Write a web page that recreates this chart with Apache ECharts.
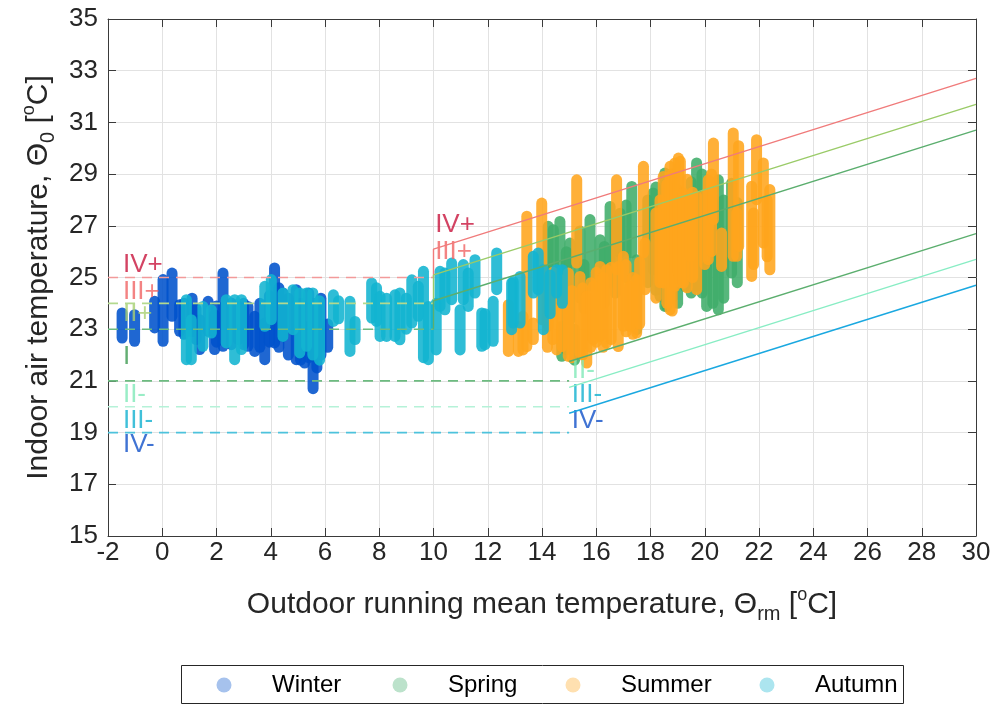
<!DOCTYPE html>
<html>
<head>
<meta charset="utf-8">
<script src="https://cdn.jsdelivr.net/npm/echarts@6/dist/echarts.min.js"></script>
<style>
html,body{margin:0;padding:0;background:#fff;}
#chart{width:999px;height:704px;}
</style>
</head>
<body>
<div id="chart"></div>
<script>
// ---------- DATA ----------
const seasons = ['Winter', 'Spring', 'Summer', 'Autumn'];
const yTicks = [15, 17, 19, 21, 23, 25, 27, 29, 31, 33, 35];

// Columns of hourly points per day: [Trm, lowest Θ0, highest Θ0]
const winterCols = [
  [-1.48, 22.66, 23.63], [-1.02, 22.53, 23.56], [-0.28, 23.05, 24.08], [0.03, 22.53, 24.92],
  [0.36, 23.5, 25.17], [0.64, 22.92, 23.95], [0.8, 22.8, 24.0], [1.1, 22.9, 24.2],
  [1.25, 22.6, 23.8], [1.38, 22.21, 23.37], [1.69, 22.92, 24.08], [1.93, 22.21, 23.56],
  [2.0, 22.5, 23.9], [2.24, 22.34, 25.17], [2.55, 22.4, 24.01], [2.8, 22.6, 23.9],
  [3.0, 22.4, 24.0], [3.16, 22.34, 23.88], [3.41, 22.14, 23.5], [3.6, 22.3, 24.0],
  [3.78, 21.82, 23.24], [3.95, 22.5, 24.3], [4.14, 22.47, 25.37], [4.3, 22.3, 24.6],
  [4.45, 22.72, 24.4], [4.65, 22.0, 24.2], [4.94, 21.82, 24.53], [5.1, 21.8, 24.0],
  [5.25, 21.69, 23.11], [5.4, 21.9, 24.4], [5.56, 20.7, 24.0], [5.7, 21.5, 23.8],
  [5.85, 22.0, 24.2], [6.1, 22.3, 23.2]
];
const springCols = [
  [14.23, 23.11, 26.98], [14.42, 24.14, 26.85], [14.66, 24.53, 27.17], [14.73, 21.95, 23.11],
  [14.9, 22.2, 26.0], [15.03, 23.37, 26.33], [15.2, 21.8, 23.0], [15.4, 24.2, 26.8],
  [15.55, 23.8, 25.5], [15.77, 24.66, 27.24], [16.14, 24.66, 26.46], [16.3, 24.0, 26.2],
  [16.51, 24.79, 27.75], [16.7, 24.4, 27.2], [16.88, 25.95, 27.49], [17.1, 25.0, 27.8],
  [17.31, 25.95, 28.52], [17.49, 22.98, 25.69], [17.9, 24.8, 28.0], [18.1, 25.3, 28.27],
  [18.2, 24.5, 28.5], [18.35, 24.27, 26.33], [18.53, 23.88, 29.04], [18.6, 23.88, 25.04],
  [18.8, 24.2, 27.5], [19.0, 24.0, 28.4], [19.27, 24.66, 25.69], [19.5, 24.4, 28.7],
  [19.7, 24.66, 29.43], [19.9, 24.4, 29.0], [20.07, 23.88, 25.43], [20.3, 24.0, 27.9],
  [20.5, 23.75, 28.78], [20.7, 24.2, 28.0], [20.99, 25.17, 28.65], [21.2, 24.8, 27.9]
];
const summerCols = [
  [12.76, 22.14, 23.95], [13.13, 22.14, 23.11], [13.3, 22.2, 23.5], [13.44, 22.33, 27.37],
  [13.68, 22.6, 23.24], [13.99, 23.37, 27.88], [14.2, 22.3, 24.5], [14.4, 22.6, 25.2],
  [14.54, 22.2, 24.9], [14.73, 22.33, 24.9], [14.97, 21.95, 25.17], [15.1, 21.9, 24.5],
  [15.28, 25.56, 28.78], [15.4, 22.08, 25.04], [15.5, 22.0, 24.6], [15.65, 21.69, 24.27],
  [15.8, 22.3, 24.8], [15.89, 22.6, 24.66], [16.0, 22.5, 25.2], [16.14, 22.72, 25.43],
  [16.25, 22.3, 25.0], [16.38, 22.46, 25.3], [16.55, 22.6, 25.4], [16.75, 25.3, 28.78],
  [16.81, 22.33, 25.43], [17.0, 23.11, 25.82], [17.1, 22.9, 25.5], [17.24, 23.11, 24.66],
  [17.35, 22.8, 25.0], [17.49, 22.85, 24.92], [17.6, 23.2, 25.6], [17.74, 25.95, 29.3],
  [17.8, 24.53, 26.33], [18.2, 24.2, 27.5], [18.35, 24.8, 28.0], [18.47, 24.79, 28.91],
  [18.6, 24.0, 28.6], [18.72, 23.75, 29.3], [18.8, 23.7, 29.0], [18.9, 24.66, 29.43],
  [19.03, 25.17, 29.62], [19.1, 24.8, 29.5], [19.21, 24.78, 28.27], [19.35, 24.6, 28.8],
  [19.46, 25.82, 28.01], [19.55, 25.0, 28.3], [19.7, 24.53, 28.14], [20.0, 25.5, 28.2],
  [20.13, 25.69, 28.78], [20.25, 26.0, 29.0], [20.32, 27.24, 30.2], [20.62, 25.43, 26.72],
  [21.05, 25.82, 30.59], [21.18, 25.82, 27.5], [21.25, 26.2, 30.1], [21.73, 25.04, 28.53],
  [21.8, 25.5, 27.5], [21.91, 28.01, 30.33], [22.16, 26.33, 29.43], [22.3, 25.8, 28.0],
  [22.4, 25.3, 28.4]
];
const autumnCols = [
  [0.89, 21.82, 24.14], [1.07, 21.82, 23.37], [1.5, 22.34, 23.88],
  [1.81, 22.85, 23.75], [2.36, 22.47, 24.14], [2.67, 21.82, 24.14],
  [2.92, 22.21, 24.14], [3.78, 23.11, 24.66],
  [4.02, 23.37, 24.92], [4.45, 22.72, 24.4],
  [4.82, 22.98, 24.53], [5.07, 22.08, 24.4], [5.32, 22.34, 24.4], [5.55, 22.0, 24.4],
  [5.8, 21.8, 24.1], [6.31, 23.3, 24.33], [6.5, 23.4, 24.1], [6.92, 22.14, 24.08],
  [7.11, 22.6, 23.3], [7.72, 23.43, 24.79], [7.9, 23.3, 24.6], [8.03, 22.72, 24.27],
  [8.27, 22.72, 24.2], [8.58, 22.72, 24.33], [8.76, 22.59, 24.4], [9.0, 23.0, 24.2],
  [9.2, 23.24, 24.91], [9.44, 23.5, 24.66], [9.63, 21.9, 25.24], [9.81, 21.82, 23.88],
  [10.1, 22.2, 24.0], [10.24, 23.88, 25.24], [10.42, 23.75, 25.17], [10.67, 24.14, 25.56],
  [10.98, 22.2, 23.75], [11.1, 24.14, 25.5], [11.28, 23.88, 25.17], [11.53, 24.4, 25.69],
  [11.78, 22.34, 23.63], [11.9, 22.4, 23.6], [12.2, 22.53, 24.08], [12.33, 24.53, 25.95],
  [12.88, 22.98, 24.79], [12.94, 23.24, 24.85], [13.19, 23.24, 25.04], [13.68, 24.4, 25.82],
  [13.86, 24.53, 25.95], [14.05, 22.98, 25.3], [14.3, 23.6, 25.1], [14.54, 24.4, 25.3],
  [14.75, 24.0, 25.3]
];

// Comfort band limits (category boundaries)
const upperBand = [25, 24, 23];            // Θ0 for Trm below the switch point
const upperSwitch = 10;                    // Trm where sloped upper limits begin
const upperSlopeStart = [26.1, 25.1, 24.1];
const upperSlopeEnd = [32.7, 31.7, 30.7];  // at Trm = 30
const lowerBand = [21, 20, 19];
const lowerSwitch = 15;
const lowerSlopeStart = [21.75, 20.75, 19.75];
const lowerSlopeEnd = [26.7, 25.7, 24.7];
const xMin = -2, xMax = 30;

// Category label texts and anchors
const labelTexts = ['IV+', 'III+', 'II+', 'I', 'II-', 'III-', 'IV-', 'IV+', 'III+', 'II-', 'III-', 'IV-'];
const labelX = [-1.45, -1.45, -1.45, -1.45, -1.45, -1.45, -1.45, 10.06, 10.06, 15.1, 15.1, 15.1];
const labelY = [25.5, 24.46, 23.6, 21.94, 20.47, 19.46, 18.53, 27.04, 26.0, 21.4, 20.47, 19.46];

// ---------- STYLE ----------
const FONT = "'Liberation Sans', Arial, Helvetica, sans-serif";
const TXT = '#262626';
const seasonColors = ['#0052CC', '#40AD6A', '#FFA51C', '#12B4D0'];
const legendColors = ['#A6C2ED', '#BCE2CB', '#FFE0B0', '#ACE5EF'];
const upperColors = ['#F07B7B', '#9ACB68', '#5BAE6E'];
const upperDashColors = ['#F29A9A', '#B3D98E', '#6DBB80'];
const lowerColors = ['#5BAE6E', '#88EDC4', '#1AA8E0'];
const lowerDashColors = ['#6DBB80', '#B5F2D8', '#4DC2DC'];
const labelColors = ['#C8143C', '#F06464', '#A8D070', '#3C9A50', '#80E8B8', '#10B0D0', '#1050C8',
                     '#C8143C', '#F06464', '#80E8B8', '#10B0D0', '#1050C8'];

const chart = echarts.init(document.getElementById('chart'), null, {renderer: 'canvas'});

function renderCol(params, api) {
  const a = api.coord([api.value(0), api.value(2)]);
  const b = api.coord([api.value(0), api.value(1)]);
  return {
    type: 'line',
    shape: {x1: a[0], y1: a[1], x2: b[0], y2: b[1]},
    style: {stroke: api.visual('color'), lineWidth: 11, lineCap: 'round', opacity: 0.88}
  };
}

const series = [];
// comfort lines
for (let i = 0; i < 3; i++) {
  series.push({
    type: 'line', silent: true, symbol: 'none', animation: false,
    data: [[xMin, upperBand[i]], [upperSwitch, upperBand[i]]],
    lineStyle: {color: upperDashColors[i], width: 1.6, type: [10, 7]}
  });
  series.push({
    type: 'line', silent: true, symbol: 'none', animation: false,
    data: [[upperSwitch, upperBand[i]], [upperSwitch, upperSlopeStart[i]], [xMax, upperSlopeEnd[i]]],
    lineStyle: {color: upperColors[i], width: 1.4}
  });
  series.push({
    type: 'line', silent: true, symbol: 'none', animation: false,
    data: [[xMin, lowerBand[i]], [lowerSwitch, lowerBand[i]]],
    lineStyle: {color: lowerDashColors[i], width: 1.6, type: [10, 7]}
  });
  series.push({
    type: 'line', silent: true, symbol: 'none', animation: false,
    data: [[lowerSwitch, lowerSlopeStart[i]], [xMax, lowerSlopeEnd[i]]],
    lineStyle: {color: lowerColors[i], width: 1.4}
  });
}
// category labels
series.push({
  type: 'scatter', silent: true, animation: false, symbolSize: 0,
  data: labelTexts.map((t, i) => ({
    value: [labelX[i], labelY[i]], name: t,
    label: {show: true, position: 'right', distance: 0, formatter: t,
            color: labelColors[i], fontSize: 26, fontFamily: FONT}
  }))
});
// measured data
const colsBySeason = [winterCols, springCols, summerCols, autumnCols];
seasons.forEach((s, i) => {
  series.push({
    name: s, type: 'custom', animation: false,
    itemStyle: {color: seasonColors[i]},
    renderItem: renderCol,
    encode: {x: 0, y: [1, 2]},
    data: colsBySeason[i]
  });
});

const legendLefts = [216.5, 392.5, 565.5, 759.5];
const legends = seasons.map((s, i) => ({
  show: true, orient: 'horizontal', left: legendLefts[i], top: 671, padding: 0,
  icon: 'circle', itemWidth: 86, itemHeight: 15, itemGap: 0,
  selectedMode: false,
  data: [{name: s, itemStyle: {color: legendColors[i], opacity: 1}}],
  textStyle: {fontSize: 24, color: '#000', fontFamily: FONT, lineHeight: 28}
}));

const richName = {
  n: {fontSize: 30, fontFamily: FONT, color: TXT, lineHeight: 38},
  sub: {fontSize: 20, fontFamily: FONT, color: TXT, verticalAlign: 'bottom', lineHeight: 14},
  sup: {fontSize: 18, fontFamily: FONT, color: TXT, verticalAlign: 'top', lineHeight: 12}
};

const option = {
  backgroundColor: '#ffffff',
  animation: false,
  grid: {left: 108, right: 23, top: 19, bottom: 168, containLabel: false},
  legend: legends,
  graphic: [{
    type: 'rect', left: 181, top: 665, z: -10, silent: true,
    shape: {width: 722, height: 38},
    style: {fill: '#fff', stroke: TXT, lineWidth: 1}
  }],
  xAxis: [{
    type: 'value', min: xMin, max: xMax, interval: 2, position: 'bottom',
    axisLine: {show: true, onZero: false, lineStyle: {color: '#3a3a3a', width: 1}},
    axisTick: {show: true, inside: true, length: 8, lineStyle: {color: '#3a3a3a'}},
    axisLabel: {fontSize: 26, color: TXT, fontFamily: FONT, margin: 4},
    splitLine: {show: true, lineStyle: {color: '#e2e2e2', width: 1}},
    name: '{n|Outdoor running mean temperature, Θ}{sub|rm}{n| [}{sup|o}{n|C]}',
    nameLocation: 'middle', nameGap: 50,
    nameTextStyle: {rich: richName}
  }, {
    type: 'value', min: xMin, max: xMax, interval: 2, position: 'top',
    axisLine: {show: true, onZero: false, lineStyle: {color: '#3a3a3a', width: 1}},
    axisTick: {show: true, inside: true, length: 8, lineStyle: {color: '#3a3a3a'}},
    axisLabel: {show: false}, splitLine: {show: false}
  }],
  yAxis: [{
    type: 'value', min: 15, max: 35, position: 'left',
    axisLine: {show: true, onZero: false, lineStyle: {color: '#3a3a3a', width: 1}},
    axisTick: {show: true, inside: true, length: 8, lineStyle: {color: '#3a3a3a'}, customValues: yTicks},
    axisLabel: {fontSize: 26, color: TXT, fontFamily: FONT, margin: 10, customValues: yTicks},
    splitLine: {show: true, lineStyle: {color: '#e2e2e2', width: 1}},
    name: '{n|Indoor air temperature, Θ}{sub|0}{n| [}{sup|o}{n|C]}',
    nameLocation: 'middle', nameGap: 46,
    nameTextStyle: {rich: richName}
  }, {
    type: 'value', min: 15, max: 35, position: 'right',
    axisLine: {show: true, onZero: false, lineStyle: {color: '#3a3a3a', width: 1}},
    axisTick: {show: true, inside: true, length: 8, lineStyle: {color: '#3a3a3a'}, customValues: yTicks},
    axisLabel: {show: false, customValues: yTicks}, splitLine: {show: false}
  }],
  series: series
};
chart.setOption(option);
</script>
</body>
</html>
